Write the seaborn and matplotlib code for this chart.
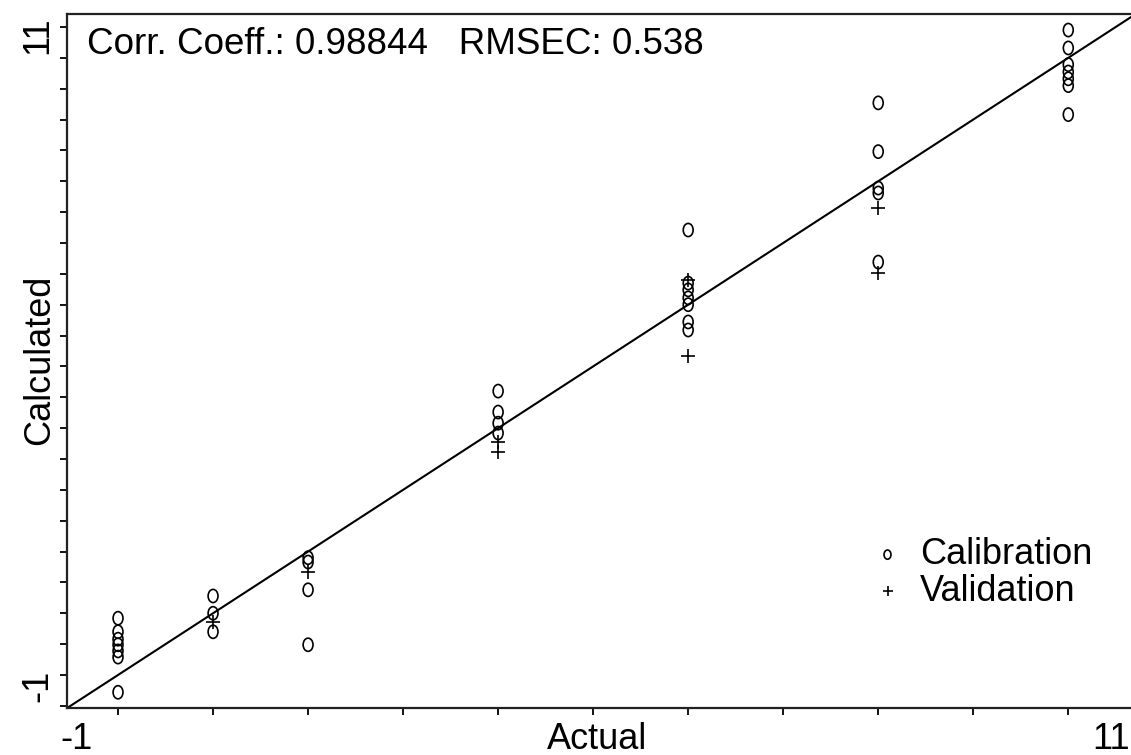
import numpy as np
import pandas as pd
import seaborn as sns
import matplotlib.pyplot as plt
from matplotlib.path import Path

# calibration / validation results (actual vs calculated)
cal_actual = [0, 0, 0, 0, 0, 0, 0,
              1, 1, 1,
              2, 2, 2, 2,
              4, 4, 4, 4,
              6, 6, 6, 6, 6, 6, 6,
              8, 8, 8, 8, 8,
              10, 10, 10, 10, 10, 10, 10]
cal_calc = [0.92, 0.70, 0.58, 0.49, 0.39, 0.29, -0.28,
            1.28, 1.00, 0.70,
            1.90, 1.83, 1.38, 0.49,
            4.60, 4.26, 4.08, 3.92,
            7.21, 6.35, 6.24, 6.11, 6.00, 5.72, 5.59,
            9.27, 8.48, 7.89, 7.81, 6.69,
            10.45, 10.16, 9.89, 9.77, 9.66, 9.55, 9.08]
val_actual = [1, 2, 4, 4, 6, 6, 8, 8]
val_calc = [0.86, 1.67, 3.78, 3.62, 6.40, 5.17, 7.57, 6.52]

corr_coeff = 0.98844
rmsec = 0.538

cal = pd.DataFrame({'Actual': cal_actual, 'Calculated': cal_calc})
val = pd.DataFrame({'Actual': val_actual, 'Calculated': val_calc})

sns.set_style('ticks')
plt.rcParams['font.family'] = ['Liberation Sans', 'DejaVu Sans']
plt.rcParams['text.color'] = 'black'

fig = plt.figure(figsize=(11.31, 7.55), dpi=100)
ax = fig.add_axes([67/1131, 47/755, 1 - 67/1131, 694/755])

# open "O" style marker, a bit taller than wide
circ = Path.unit_circle()
oval = Path(circ.vertices * [0.75, 1.0], circ.codes)

sns.scatterplot(data=cal, x='Actual', y='Calculated', marker=oval, s=90,
                facecolor='none', edgecolor='black', linewidth=1.2,
                label='Calibration', ax=ax)
sns.scatterplot(data=val, x='Actual', y='Calculated', marker='+', s=90,
                color='black', linewidth=1.2, label='Validation', ax=ax)
ax.axline((0, 0), slope=1, color='black', lw=1.5, zorder=1)

ax.set_xlim(-0.537, 10.66)
ax.set_ylim(-0.535, 10.71)
ax.set_xticks(np.arange(0, 11, 1))
ax.set_yticks(np.arange(-0.5, 10.6, 0.5))
ax.set_xticklabels([])
ax.set_yticklabels([])
ax.tick_params(length=5, width=1.3, color='black')
ax.set_xlabel('')
ax.set_ylabel('')
for side in ['left', 'bottom', 'top']:
    ax.spines[side].set_linewidth(1.6)
    ax.spines[side].set_color('#222222')
ax.spines['right'].set_visible(False)

# axis end labels and titles
fs = 26
base = 1 - 749/755
fig.text(76/1131, base, '-1', ha='center', va='baseline', fontsize=fs)
fig.text(1111/1131, base, '11', ha='center', va='baseline', fontsize=fs)
fig.text(597/1131, base, 'Actual', ha='center', va='baseline', fontsize=fs)
fig.text(38/1131, 1 - 35/755, '11', ha='center', va='center', fontsize=fs, rotation=90)
fig.text(38/1131, 1 - 686/755, '-1', ha='center', va='center', fontsize=fs, rotation=90)
fig.text(40/1131, 1 - 360/755, 'Calculated', ha='center', va='center', fontsize=fs, rotation=90)

fig.text(87/1131, 1 - 44/755,
         f'Corr. Coeff.: {corr_coeff}   RMSEC: {rmsec}',
         ha='left', va='center', fontsize=26.5)

ax.legend(loc='center left', bbox_to_anchor=(855/1131, 1 - 573/755),
          bbox_transform=fig.transFigure, frameon=False, fontsize=fs,
          markerscale=0.7, handlelength=0.8, handletextpad=0.5,
          labelspacing=0.05, borderpad=0)

fig.savefig('out.png', dpi=100)
